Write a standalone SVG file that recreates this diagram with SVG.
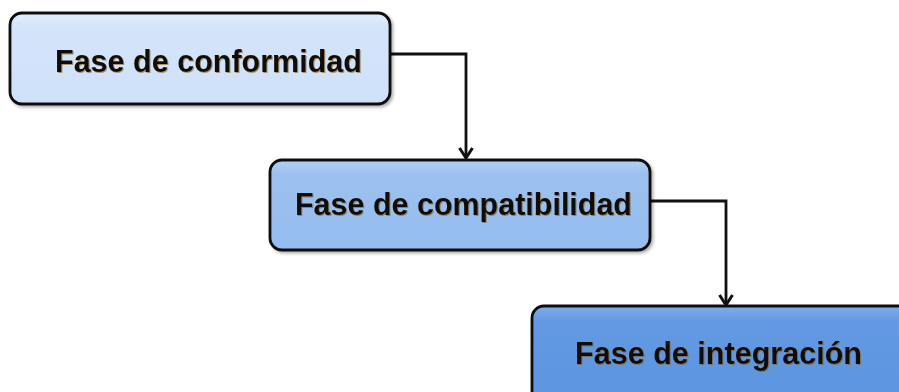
<svg xmlns="http://www.w3.org/2000/svg" width="899" height="392" viewBox="0 0 899 392">
<defs>
<linearGradient id="g1" x1="0" y1="0" x2="0" y2="1"><stop offset="0" stop-color="#E3EEFC"/><stop offset="0.15" stop-color="#D3E4FA"/><stop offset="1" stop-color="#CFE1F9"/></linearGradient>
<linearGradient id="g2" x1="0" y1="0" x2="0" y2="1"><stop offset="0" stop-color="#B3D0F4"/><stop offset="0.15" stop-color="#9CC1F0"/><stop offset="1" stop-color="#96BDEF"/></linearGradient>
<linearGradient id="g3" x1="0" y1="0" x2="0" y2="1"><stop offset="0" stop-color="#7FAEE8"/><stop offset="0.15" stop-color="#6399E2"/><stop offset="1" stop-color="#5C94E0"/></linearGradient>
<filter id="sh" x="-5%" y="-5%" width="115%" height="120%"><feDropShadow dx="2" dy="2" stdDeviation="1.5" flood-color="#000" flood-opacity="0.3"/></filter>
<filter id="tsh" x="-5%" y="-10%" width="110%" height="130%"><feDropShadow dx="1" dy="1" stdDeviation="0.4" flood-color="#8a5a10" flood-opacity="0.6"/></filter>
<marker id="arr" markerWidth="14" markerHeight="16" refX="12" refY="8" orient="auto" markerUnits="userSpaceOnUse" viewBox="0 0 14 16">
<path d="M2,1.5 L12,8 L2,14.5" fill="none" stroke="#111" stroke-width="3"/>
</marker>
</defs>
<style>
.box{stroke:#111;stroke-width:2.8;filter:url(#sh)}
.lbl{font-family:"Liberation Sans",Arial,sans-serif;font-weight:bold;font-size:31px;fill:#111;filter:url(#tsh)}
.con{fill:none;stroke:#111;stroke-width:2.8}
</style>
<g id="connectors">
<path class="con" d="M390,54 H466 V158" marker-end="url(#arr)"/>
<path class="con" d="M650,201 H726 V305" marker-end="url(#arr)"/>
</g>
<g id="node1">
<rect class="box" x="10" y="13" width="380" height="91" rx="12" fill="url(#g1)"/>
<text class="lbl" x="55" y="72" textLength="307" lengthAdjust="spacingAndGlyphs">Fase de conformidad</text>
</g>
<g id="node2">
<rect class="box" x="270" y="160" width="380" height="90" rx="12" fill="url(#g2)"/>
<text class="lbl" x="295" y="215" textLength="337" lengthAdjust="spacingAndGlyphs">Fase de compatibilidad</text>
</g>
<g id="node3">
<rect class="box" x="532" y="306" width="390" height="100" rx="12" fill="url(#g3)"/>
<text class="lbl" x="575" y="364" textLength="287" lengthAdjust="spacingAndGlyphs">Fase de integración</text>
</g>
</svg>
